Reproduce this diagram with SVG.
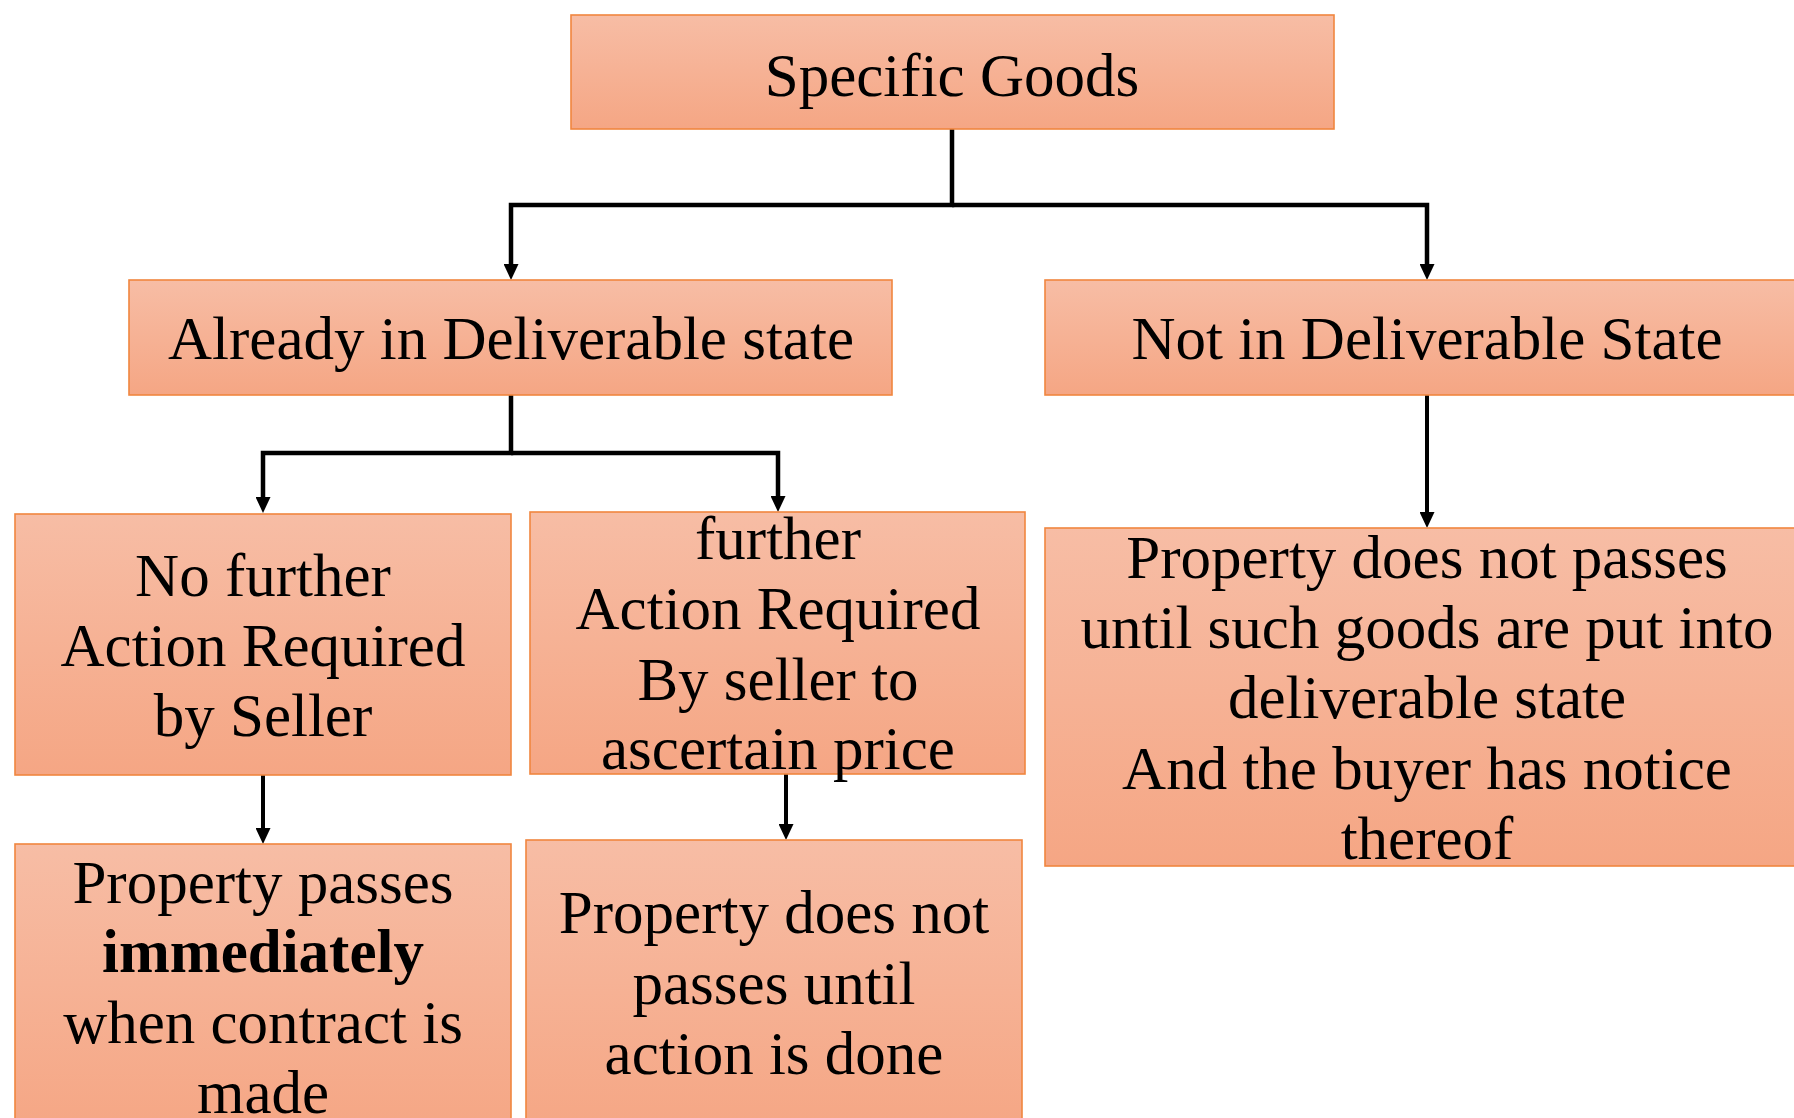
<svg xmlns="http://www.w3.org/2000/svg" width="1794" height="1118" viewBox="0 0 1794 1118">
<defs>
<linearGradient id="g" x1="0" y1="0" x2="0" y2="1">
<stop offset="0" stop-color="#F7BDA5"/>
<stop offset="1" stop-color="#F5A684"/>
</linearGradient>
<marker id="ah" markerUnits="userSpaceOnUse" markerWidth="16" markerHeight="15" refX="6" refY="7.5" orient="auto" viewBox="0 0 16 15">
<path d="M0,0 L16,7.5 L0,15 z" fill="#000"/>
</marker>
<style>
.box{fill:url(#g);stroke:#F0863F;stroke-width:1.6}
.t{font-family:"Liberation Serif","Times New Roman",serif;font-size:61px;fill:#000;text-anchor:middle}
.b{font-weight:bold}
.c{fill:none;stroke:#000;stroke-width:4.5}
.c2{fill:none;stroke:#000;stroke-width:4}
</style>
</defs>
<rect width="1794" height="1118" fill="#fff"/>
<g id="connectors">
<path class="c" d="M952,129 V205 H511 V270" marker-end="url(#ah)"/>
<path class="c" d="M952,205 H1427 V270" marker-end="url(#ah)"/>
<path class="c" d="M511,395 V453 H263 V503" marker-end="url(#ah)"/>
<path class="c" d="M511,453 H778 V502" marker-end="url(#ah)"/>
<path class="c2" d="M1427,395 V518" marker-end="url(#ah)"/>
<path class="c2" d="M263,775 V834" marker-end="url(#ah)"/>
<path class="c2" d="M786,772 V830" marker-end="url(#ah)"/>
</g>
<g id="specific-goods">
<rect class="box" x="571" y="15" width="763" height="114"/>
<text class="t" x="952" y="96">Specific Goods</text>
</g>
<g id="already-deliverable">
<rect class="box" x="129" y="280" width="763" height="115"/>
<text class="t" x="511" y="359">Already in Deliverable state</text>
</g>
<g id="not-deliverable">
<rect class="box" x="1045" y="280" width="764" height="115"/>
<text class="t" x="1427" y="359">Not in Deliverable State</text>
</g>
<g id="no-further-action">
<rect class="box" x="15" y="514" width="496" height="261"/>
<text class="t" x="263" y="596">No further</text>
<text class="t" x="263" y="666">Action Required</text>
<text class="t" x="263" y="736">by Seller</text>
</g>
<g id="further-action">
<rect class="box" x="530" y="512" width="495" height="262"/>
<text class="t" x="778" y="559">further</text>
<text class="t" x="778" y="629">Action Required</text>
<text class="t" x="778" y="700">By seller to</text>
<text class="t" x="778" y="769">ascertain price</text>
</g>
<g id="passes-immediately">
<rect class="box" x="15" y="844" width="496" height="290"/>
<text class="t" x="263" y="903">Property passes</text>
<text class="t b" x="263" y="972">immediately</text>
<text class="t" x="263" y="1043">when contract is</text>
<text class="t" x="263" y="1113">made</text>
</g>
<g id="passes-after-action">
<rect class="box" x="526" y="840" width="496" height="294"/>
<text class="t" x="774" y="933">Property does not</text>
<text class="t" x="774" y="1004">passes until</text>
<text class="t" x="774" y="1074">action is done</text>
</g>
<g id="not-passes-until-deliverable">
<rect class="box" x="1045" y="528" width="764" height="338"/>
<text class="t" x="1427" y="578">Property does not passes</text>
<text class="t" x="1427" y="648">until such goods are put into</text>
<text class="t" x="1427" y="718">deliverable state</text>
<text class="t" x="1427" y="789">And the buyer has notice</text>
<text class="t" x="1427" y="859">thereof</text>
</g>
</svg>
